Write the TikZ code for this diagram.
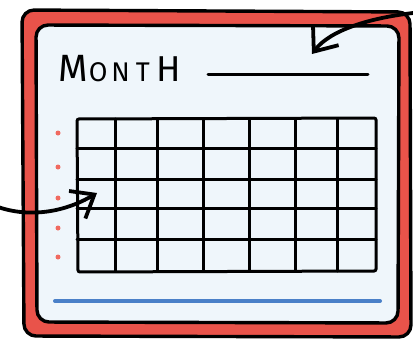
\documentclass[tikz,border=0pt]{standalone}
\usepackage{fontspec}
\setsansfont{Fira Sans}
\usetikzlibrary{arrows.meta}
\definecolor{calred}{HTML}{E9534A}
\definecolor{panel}{HTML}{EFF6FB}
\definecolor{calblue}{HTML}{4A80C8}
\definecolor{dotred}{HTML}{F06A60}
\tikzset{
  outline/.style={draw=black, line width=3.4pt, line join=round},
  gridline/.style={draw=black, line width=3pt, line cap=round},
  pointer/.style={draw=black, line width=3.8pt, line cap=round, -{Straight Barb[length=20pt,width=32pt,line width=3.8pt]}},
  dot/.style={circle, fill=dotred, inner sep=0pt, minimum size=5pt},
}
\begin{document}
\begin{tikzpicture}[x=1pt,y=-1pt]
\useasboundingbox (0,0) rectangle (413,340);
% outer red frame
\path[outline, fill=calred, rounded corners=12pt] (22,10) -- (410,12) -- (411,337) -- (24,336) -- cycle;
% inner panel
\path[outline, fill=panel, rounded corners=12pt] (36,25) -- (399,26) -- (398,323) -- (37,322) -- cycle;
% title
\node[anchor=base west, inner sep=0pt, font=\sffamily] (title) at (58,81)
  {\fontsize{38}{38}\selectfont M\hspace{1pt}\fontsize{27}{27}\selectfont O\hspace{4pt}N\hspace{6pt}T\hspace{7pt}\fontsize{36}{36}\selectfont H};
\coordinate (ls) at (208,74);
\coordinate (le) at (368,74);
\draw[line width=3pt, line cap=round] (ls) -- (le);
% grid
\path[gridline, rounded corners=2pt] (77,119) -- (376,118) -- (376,271) -- (78,272) -- cycle;
\foreach \y in {148,179,208,239} \draw[gridline] (77,\y) -- (376,\y);
\foreach \x in {115,157,203,249,295,337} \draw[gridline] (\x,119) -- (\x,271);
% dots
\foreach \y [count=\i] in {133,167,198,228,257} \node[dot] (d\i) at (58,\y) {};
% blue line
\coordinate (bs) at (55,301);
\coordinate (be) at (380,301);
\draw[calblue, line width=4pt, line cap=round] (bs) -- (be);
% arrows
\coordinate (a1s) at (413,13);
\coordinate (a1e) at (312,54);
\draw[pointer] (a1s) .. controls (370,18) and (330,30) .. (a1e);
\coordinate (a2s) at (-2,207);
\coordinate (a2e) at (97,193);
\draw[pointer] (a2s) .. controls (30,218) and (65,212) .. (a2e);
\end{tikzpicture}
\end{document}
